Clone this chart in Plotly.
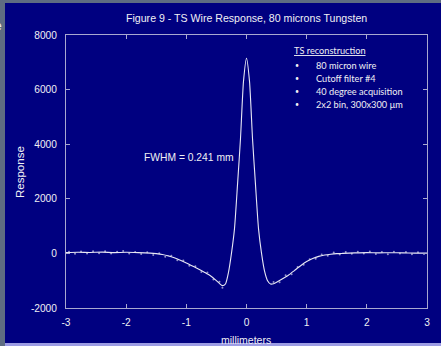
import plotly.graph_objects as go

# Smooth response curve (millimeters vs response)
curve_x = [-3.0, -2.8, -2.6, -2.4, -2.2, -2.0, -1.8, -1.6, -1.5, -1.4, -1.3, -1.2, -1.1, -1.0,
           -0.9, -0.8, -0.7, -0.6, -0.5, -0.45, -0.4, -0.35, -0.3, -0.25, -0.2, -0.15, -0.1, -0.05,
           0.0, 0.05, 0.1, 0.15, 0.2, 0.25, 0.3, 0.35, 0.4, 0.45, 0.5, 0.6, 0.7, 0.8, 0.9, 1.0,
           1.1, 1.2, 1.3, 1.4, 1.5, 1.6, 1.8, 2.0, 2.2, 2.4, 2.6, 2.8, 3.0]
curve_y = [30, 40, 35, 45, 30, 40, 30, 10, -10, -40, -90, -160, -250, -350,
           -460, -570, -690, -820, -1000, -1100, -1180, -1120, -700, 0, 900, 2500, 4200, 6300,
           7150, 6300, 4200, 2500, 900, 0, -650, -1000, -1120, -1110, -1060, -930, -790, -620, -450, -300,
           -190, -110, -60, -30, -10, 0, 20, 30, 20, 25, 20, 10, 10]

# Raw (noisy) samples scattered around the curve
raw_x = [-2.95, -2.85, -2.75, -2.65, -2.55, -2.45, -2.35, -2.25, -2.15, -2.05, -1.95, -1.85, -1.75,
         -1.65, -1.55, -1.45, -1.35, -1.25, -1.15, -1.05, -0.95, -0.85, -0.75, -0.65, -0.55, -0.45, -0.4,
         0.45, 0.55, 0.65, 0.75, 0.85, 0.95, 1.05, 1.15, 1.25, 1.35, 1.45, 1.55, 1.65, 1.75, 1.85,
         1.95, 2.05, 2.15, 2.25, 2.35, 2.45, 2.55, 2.65, 2.75, 2.85, 2.95]
raw_y = [60, -10, 70, 0, 80, 10, 75, -5, 60, 90, 0, 55, -20,
         40, -60, 10, -120, -90, -250, -260, -450, -470, -680, -700, -960, -1040, -1260,
         -1050, -1060, -800, -760, -500, -420, -210, -200, -40, -90, 30, -40, 50, -10, 60,
         0, 70, -20, 50, -30, 60, 0, 50, -30, 40, -20]

title_text = "Figure 9 - TS Wire Response, 80 microns Tungsten"
x_title = "millimeters"
y_title = "Response"
x_ticks = [-3, -2, -1, 0, 1, 2, 3]
y_ticks = [-2000, 0, 2000, 4000, 6000, 8000]
note_head = "TS reconstruction"
note_items = ["80 micron wire", "Cutoff filter #4", "40 degree acquisition", "2x2 bin, 300x300 \u00b5m"]
fwhm_text = "FWHM = 0.241 mm"

NAVY = "#000080"
AXC = "#a8a8d0"
TXT = "#f0f0f4"
W, H = 441, 346
L, R, T, B = 66, 14, 35, 38
PW, PH = W - L - R, H - T - B

def px(xp):
    return (xp - L) / PW

def py(yp):
    return (H - B - yp) / PH

fig = go.Figure()
fig.add_trace(go.Scatter(x=raw_x, y=raw_y, mode="markers",
                         marker=dict(size=2, color="#9090c8"), hoverinfo="skip"))
fig.add_trace(go.Scatter(x=curve_x, y=curve_y, mode="lines",
                         line=dict(color="#e8e8f4", width=1.1, shape="spline", smoothing=0.6)))

shapes = [
    dict(type="rect", xref="paper", yref="paper", x0=px(-5), x1=px(5), y0=py(-5), y1=py(351),
         fillcolor="#5e6c82", line=dict(width=0), layer="below"),
    dict(type="rect", xref="paper", yref="paper", x0=px(5), x1=px(446), y0=py(-5), y1=py(3),
         fillcolor="#5e6c82", line=dict(width=0), layer="below"),
    dict(type="rect", xref="paper", yref="paper", x0=px(5), x1=px(446), y0=py(343), y1=py(351),
         fillcolor="#9c9ce4", line=dict(width=0), layer="above"),
]

ann = [
    dict(text=title_text, x=px(246), y=py(18), xref="paper", yref="paper", showarrow=False,
         font=dict(family="Liberation Sans", size=10.6, color=TXT), xanchor="center", yanchor="middle"),
    dict(text=fwhm_text, x=px(142), y=py(157), xref="paper", yref="paper", showarrow=False,
         font=dict(family="Liberation Sans", size=10.3, color=TXT), xanchor="left", yanchor="middle"),
    dict(text="<u>" + note_head + "</u>", x=px(292), y=py(50), xref="paper", yref="paper", showarrow=False,
         font=dict(family="Lato", size=9.2, color=TXT), xanchor="left", yanchor="middle"),
    dict(text="e", x=px(4), y=py(26), xref="paper", yref="paper", showarrow=False,
         font=dict(family="Liberation Sans", size=12, color=TXT), xanchor="right", yanchor="middle"),
]
for i, item in enumerate(note_items):
    yy = 65 + i * 13
    ann.append(dict(text="\u2022", x=px(293), y=py(yy), xref="paper", yref="paper", showarrow=False,
                    font=dict(family="Lato", size=7, color=TXT), xanchor="left", yanchor="middle"))
    ann.append(dict(text=item, x=px(314), y=py(yy), xref="paper", yref="paper", showarrow=False,
                    font=dict(family="Lato", size=9.2, color=TXT), xanchor="left", yanchor="middle"))
ann.append(dict(text=x_title, x=px(246), y=py(340), xref="paper", yref="paper", showarrow=False,
                font=dict(family="Liberation Sans", size=10.5, color=TXT), xanchor="center", yanchor="middle"))
ann.append(dict(text=y_title, x=px(20), y=py(172), xref="paper", yref="paper", showarrow=False, textangle=-90,
                font=dict(family="Liberation Sans", size=11.5, color=TXT), xanchor="center", yanchor="middle"))

fig.update_layout(
    width=W, height=H, margin=dict(l=L, r=R, t=T, b=B, pad=0),
    paper_bgcolor=NAVY, plot_bgcolor=NAVY, showlegend=False,
    shapes=shapes, annotations=ann,
    xaxis=dict(range=[-3, 3], tickvals=x_ticks, ticktext=[str(v) for v in x_ticks],
               showline=True, linecolor=AXC, linewidth=1, mirror="ticks",
               ticks="inside", ticklen=4, tickcolor=AXC, showgrid=False, zeroline=False,
               tickfont=dict(family="Liberation Sans", size=10.2, color=TXT), ticklabelstandoff=5),
    yaxis=dict(range=[-2000, 8000], tickvals=y_ticks, ticktext=[str(v) for v in y_ticks],
               showline=True, linecolor=AXC, linewidth=1, mirror="ticks",
               ticks="inside", ticklen=4, tickcolor=AXC, showgrid=False, zeroline=False,
               tickfont=dict(family="Liberation Sans", size=10.2, color=TXT), ticklabelstandoff=6),
)
fig.write_html("out.html", config={"displayModeBar": False},
               post_script="document.body.style.margin='0';document.body.style.overflow='hidden';")
